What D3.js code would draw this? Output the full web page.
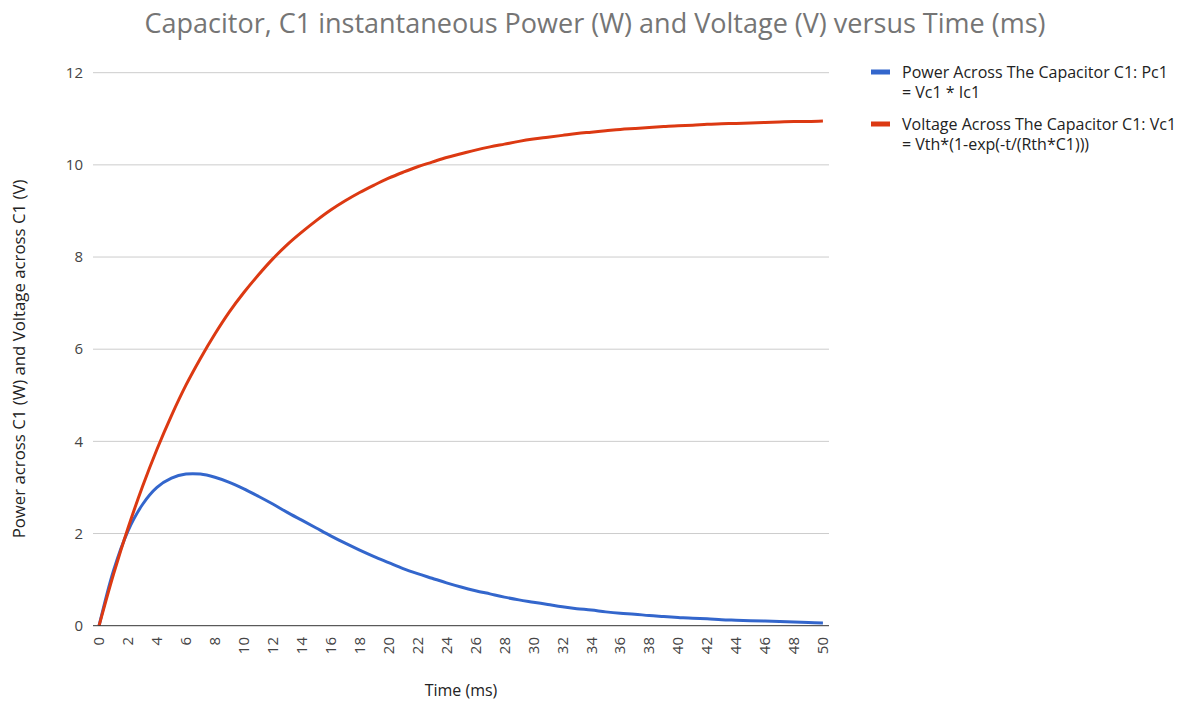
<!DOCTYPE html>
<html>
<head>
<meta charset="utf-8">
<script src="https://cdn.jsdelivr.net/npm/d3@7"></script>
<style>
  body { margin: 0; background: #fff; }
  svg { display: block; font-family: "Open Sans", sans-serif; }
</style>
</head>
<body>
<svg id="chart" width="1190" height="707"></svg>
<script>
// time in ms, one point per ms
const timeMs = d3.range(0, 51)

// values
const powerW = [0, 1.20, 2.06, 2.63, 3.00, 3.20, 3.29, 3.29, 3.22, 3.11,
  2.97, 2.81, 2.64, 2.46, 2.29, 2.12, 1.95, 1.79, 1.64, 1.50,
  1.37, 1.24, 1.13, 1.03, 0.93, 0.84, 0.76, 0.69, 0.62, 0.56,
  0.51, 0.46, 0.41, 0.37, 0.34, 0.30, 0.27, 0.25, 0.22, 0.20,
  0.18, 0.16, 0.15, 0.13, 0.12, 0.11, 0.10, 0.09, 0.08, 0.07, 0.06]

const voltageV = [0, 1.12, 2.12, 3.02, 3.83, 4.56, 5.22, 5.80, 6.33, 6.81,
  7.23, 7.61, 7.96, 8.27, 8.54, 8.79, 9.02, 9.22, 9.40, 9.56,
  9.71, 9.84, 9.96, 10.06, 10.16, 10.24, 10.32, 10.39, 10.45, 10.51,
  10.56, 10.60, 10.64, 10.68, 10.71, 10.74, 10.77, 10.79, 10.81, 10.83,
  10.85, 10.86, 10.88, 10.89, 10.90, 10.91, 10.92, 10.93, 10.94, 10.94, 10.95]

const xTicks = d3.range(0, 51, 2)
const yTicks = [0, 2, 4, 6, 8, 10, 12]

const seriesNames = [
  ["Power Across The Capacitor C1: Pc1", "= Vc1 * Ic1"],
  ["Voltage Across The Capacitor C1: Vc1", "= Vth*(1-exp(-t/(Rth*C1)))"]
]
const seriesColors = ["#3366cc", "#dc3912"]

const svg = d3.select("#chart")

// plot area
const plotLeft = 93, plotRight = 829, plotTop = 72.7, plotBottom = 625.7

const x = d3.scaleLinear().domain([-0.42, 50.42]).range([plotLeft, plotRight])
const y = d3.scaleLinear().domain([0, 12]).range([plotBottom, plotTop])

// gridlines
svg.append("g")
  .selectAll("line")
  .data(yTicks.filter(d => d > 0))
  .enter().append("line")
    .attr("x1", plotLeft).attr("x2", plotRight)
    .attr("y1", d => y(d)).attr("y2", d => y(d))
    .attr("stroke", "#cccccc")
    .attr("stroke-width", 1)

// y tick labels
svg.append("g")
  .selectAll("text")
  .data(yTicks)
  .enter().append("text")
    .attr("x", 83)
    .attr("y", d => y(d))
    .attr("dy", "0.35em")
    .attr("text-anchor", "end")
    .attr("font-size", 15)
    .attr("fill", "#444")
    .text(d => d)

// x axis tick labels, rotated
svg.append("g")
  .selectAll("text")
  .data(xTicks)
  .enter().append("text")
    .attr("transform", d => "translate(" + x(d) + ",637) rotate(-90)")
    .attr("dy", "0.35em")
    .attr("text-anchor", "end")
    .attr("font-size", 15)
    .attr("fill", "#444")
    .text(d => d)

const data = [powerW, voltageV]

const line = d3.line()
  .x((d, i) => x(timeMs[i]))
  .y(d => y(d))
  .curve(d3.curveCatmullRom.alpha(0.5))

svg.append("g")
  .selectAll("path")
  .data(data)
  .enter().append("path")
    .attr("d", line)
    .attr("fill", "none")
    .attr("stroke", (d, i) => seriesColors[i])
    .attr("stroke-width", 3)
    .attr("stroke-linejoin", "round")

// baseline
svg.append("line")
  .attr("x1", plotLeft).attr("x2", plotRight)
  .attr("y1", y(0)).attr("y2", y(0))
  .attr("stroke", "#333")
  .attr("stroke-width", 1)

// title
svg.append("text")
  .attr("x", 595)
  .attr("y", 33)
  .attr("text-anchor", "middle")
  .attr("font-size", 27)
  .attr("fill", "#757575")
  .text("Capacitor, C1 instantaneous Power (W) and Voltage (V) versus Time (ms)")

// axis titles
svg.append("text")
  .attr("x", (plotLeft + plotRight) / 2)
  .attr("y", 696)
  .attr("text-anchor", "middle")
  .attr("font-size", 16)
  .attr("fill", "#222")
  .text("Time (ms)")

svg.append("text")
  .attr("transform", "translate(25,359) rotate(-90)")
  .attr("text-anchor", "middle")
  .attr("font-size", 16.8)
  .attr("fill", "#222")
  .text("Power across C1 (W) and Voltage across C1 (V)")

// legend
const legend = svg.append("g")
  .selectAll("g")
  .data(seriesNames)
  .enter().append("g")
    .attr("transform", (d, i) => "translate(871," + (72 + i * 52) + ")")

legend.append("rect")
  .attr("x", 0).attr("y", -2.5)
  .attr("width", 19).attr("height", 5)
  .attr("fill", (d, i) => seriesColors[i])

legend.append("text")
  .attr("x", 31)
  .attr("font-size", 16)
  .attr("fill", "#222")
  .selectAll("tspan")
  .data(d => d)
  .enter().append("tspan")
    .attr("x", 31)
    .attr("y", (d, i) => 5.5 + i * 20)
    .text(d => d)
</script>
</body>
</html>
